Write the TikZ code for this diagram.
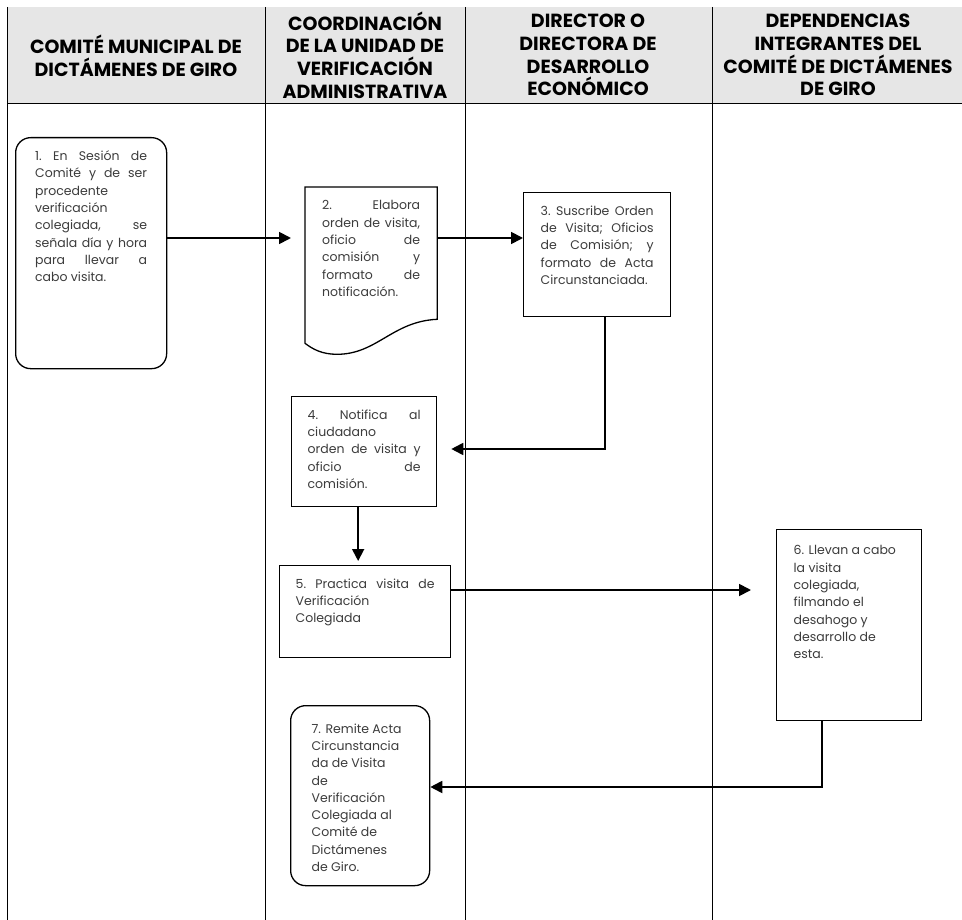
\documentclass[tikz,border=0pt]{standalone}
\usepackage{fontspec}
\setmainfont{Poppins}
\usetikzlibrary{arrows.meta}

\definecolor{headgray}{RGB}{230,230,230}
\definecolor{stepgray}{RGB}{60,60,60}

\newcommand{\headfont}{\fontsize{19}{22.7}\selectfont\bfseries}
\newcommand{\stepfont}{\fontsize{12.5}{17.3}\selectfont}
\newcommand{\justtext}[3]{\parbox[c][#2][t]{#1}{\stepfont\hyphenpenalty=10000\tolerance=10000\hbadness=10000\hfuzz=20pt #3}}
\newcommand{\lefttext}[3]{\parbox[c][#2][t]{#1}{\stepfont\raggedright #3}}

\tikzset{
  lane/.style={line width=0.9pt},
  head/.style={align=center, font=\headfont},
  stepbox/.style={draw, line width=1.3pt, inner sep=0pt, anchor=north west, text=stepgray},
  roundbox/.style={stepbox, rounded corners=15pt},
  docbox/.style={stepbox, draw=none},
  flow/.style={line width=1.8pt, -{Triangle[length=12pt,width=12pt]}},
}

\begin{document}
\begin{tikzpicture}[x=1pt, y=-1pt]

  \useasboundingbox (0,0) rectangle (962,920);
  \fill[white] (0,0) rectangle (962,920);

  \fill[headgray] (7,7) rectangle (962,103);
  \draw[lane] (7,103) -- (962,103);
  \draw[lane] (7,7) -- (7,920);
  \draw[lane] (265,7) -- (265,920);
  \draw[lane] (465,7) -- (465,920);
  \draw[lane] (712,7) -- (712,920);

  \node[head] (h1) at (136,56) {COMITÉ MUNICIPAL DE\\DICTÁMENES DE GIRO};
  \node[head] (h2) at (365,55) {COORDINACIÓN\\DE LA UNIDAD DE\\VERIFICACIÓN\\ADMINISTRATIVA};
  \node[head] (h3) at (588,55) {DIRECTOR O\\DIRECTORA DE\\DESARROLLO\\ECONÓMICO};
  \node[head] (h4) at (838,55) {DEPENDENCIAS\\INTEGRANTES DEL\\COMITÉ DE DICTÁMENES\\DE GIRO};

  \node[roundbox, minimum width=151pt, minimum height=231pt] (s1) at (15,137)
    {\justtext{112pt}{205pt}{1.~En~Sesión~de\linebreak Comité~y~de~ser\linebreak procedente\linebreak verificación\linebreak colegiada,~se\linebreak señala~día~y~hora\linebreak para~llevar~a\linebreak cabo~visita.}};
  \node[docbox, minimum width=131pt, minimum height=155pt] (s2) at (305,187)
    {\justtext{98pt}{129pt}{2.~Elabora\linebreak orden~de~visita,\linebreak oficio~de\linebreak comisión~y\linebreak formato~de\linebreak notificación.}};
  \draw[line width=1.3pt] (s2.south west) -- (s2.north west) -- (s2.north east) -- ([yshift=24pt]s2.south east)
    .. controls +(-45pt,-2pt) and +(40pt,0pt) .. ([xshift=32pt,yshift=-11pt]s2.south west)
    .. controls +(-15pt,0pt) and +(8pt,-6pt) .. (s2.south west) -- cycle;
  \node[stepbox, minimum width=147pt, minimum height=124pt] (s3) at (523,192)
    {\justtext{113pt}{98pt}{3.~Suscribe~Orden\linebreak de~Visita;~Oficios\linebreak de~Comisión;~y\linebreak formato~de~Acta\linebreak Circunstanciada.}};
  \node[stepbox, minimum width=145pt, minimum height=110pt] (s4) at (291,396)
    {\justtext{113pt}{84pt}{4.~Notifica~al\linebreak ciudadano\linebreak orden~de~visita~y\linebreak oficio~de\linebreak comisión.}};
  \node[stepbox, minimum width=171pt, minimum height=92pt] (s5) at (279,565)
    {\justtext{139pt}{66pt}{5.~Practica~visita~de\linebreak Verificación\linebreak Colegiada}};
  \node[stepbox, minimum width=145pt, minimum height=191pt] (s6) at (776,529)
    {\lefttext{111pt}{159pt}{6. Llevan a cabo\\la visita\\colegiada,\\filmando el\\desahogo y\\desarrollo de\\esta.}};
  \node[roundbox, minimum width=139pt, minimum height=180pt] (s7) at (290,705)
    {\lefttext{97pt}{144pt}{7. Remite Acta\\Circunstancia\\da de Visita\\de\\Verificación\\Colegiada al\\Comité de\\Dictámenes\\de Giro.}};

  \coordinate (r1) at (0,238);
  \coordinate (r3) at (0,449);
  \coordinate (r5) at (0,590);
  \coordinate (r6) at (0,787);

  \draw[flow, shorten >=14pt] (s1.east |- r1) -- (s2.west |- r1);
  \draw[flow] (s2.east |- r1) -- (s3.west |- r1);
  \draw[flow, shorten >=14pt] ([xshift=8pt]s3.south) |- (s4.east |- r3);
  \draw[flow, shorten >=4pt] ([xshift=-6pt]s4.south) -- ([xshift=-6pt]s4.south |- s5.north);
  \draw[flow, shorten >=25pt] (s5.east |- r5) -- (s6.west |- r5);
  \draw[flow] ([xshift=-27pt]s6.south) |- (s7.east |- r6);

\end{tikzpicture}
\end{document}
